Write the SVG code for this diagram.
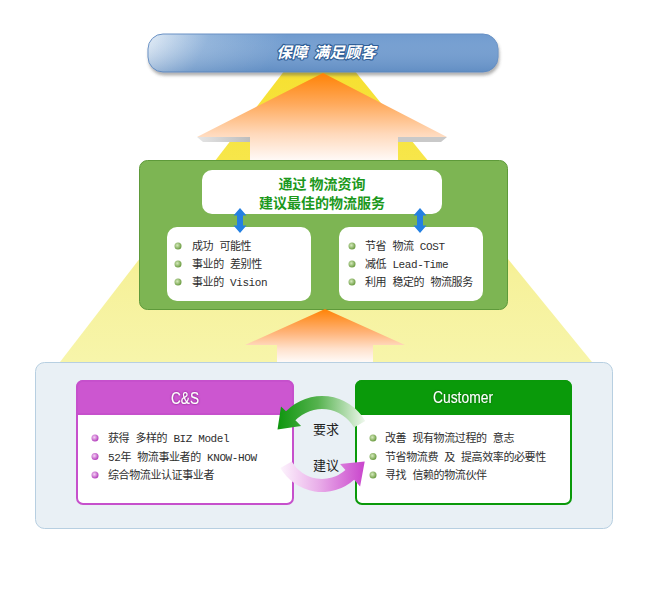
<svg xmlns="http://www.w3.org/2000/svg" width="650" height="600" viewBox="0 0 650 600">
<defs>
<linearGradient id="gYellow" x1="0" y1="70" x2="0" y2="362" gradientUnits="userSpaceOnUse">
<stop offset="0" stop-color="#f6e030"/>
<stop offset="0.35" stop-color="#f7e74e"/>
<stop offset="0.7" stop-color="#f6f19a"/>
<stop offset="1" stop-color="#f7f5aa"/>
</linearGradient>
<linearGradient id="gOrange1" x1="0" y1="73" x2="0" y2="160" gradientUnits="userSpaceOnUse">
<stop offset="0" stop-color="#ff8205"/>
<stop offset="0.35" stop-color="#ffa95a"/>
<stop offset="0.7" stop-color="#ffd9bb"/>
<stop offset="1" stop-color="#fff9f6"/>
</linearGradient>
<linearGradient id="gOrange2" x1="0" y1="309" x2="0" y2="362" gradientUnits="userSpaceOnUse">
<stop offset="0" stop-color="#ff8205"/>
<stop offset="0.45" stop-color="#ffb47a"/>
<stop offset="0.75" stop-color="#ffe1cc"/>
<stop offset="1" stop-color="#fffaf7"/>
</linearGradient>
<linearGradient id="gShadowBar" x1="0" y1="0" x2="1" y2="0">
<stop offset="0" stop-color="#e6e6e6"/>
<stop offset="1" stop-color="#bdbdbd"/>
</linearGradient>
<linearGradient id="gBanner" x1="148" y1="34" x2="260" y2="90" gradientUnits="userSpaceOnUse">
<stop offset="0" stop-color="#e2ecf6"/>
<stop offset="0.45" stop-color="#8fb2da"/>
<stop offset="1" stop-color="#6f9bcf"/>
</linearGradient>
<linearGradient id="gBannerV" x1="0" y1="34" x2="0" y2="72" gradientUnits="userSpaceOnUse">
<stop offset="0" stop-color="#ffffff" stop-opacity="0"/>
<stop offset="1" stop-color="#3e6ea8" stop-opacity="0.3"/>
</linearGradient>
<linearGradient id="gGreenArc" x1="278" y1="0" x2="366" y2="0" gradientUnits="userSpaceOnUse">
<stop offset="0" stop-color="#0f960f"/>
<stop offset="0.45" stop-color="#55b24e"/>
<stop offset="1" stop-color="#f2f9f0"/>
</linearGradient>
<linearGradient id="gPinkArc" x1="280" y1="0" x2="365" y2="0" gradientUnits="userSpaceOnUse">
<stop offset="0" stop-color="#fdf4fd"/>
<stop offset="0.45" stop-color="#e9aee9"/>
<stop offset="1" stop-color="#c944cc"/>
</linearGradient>
<radialGradient id="gBulletG" cx="0.4" cy="0.4" r="0.6">
<stop offset="0" stop-color="#d6ebbd"/>
<stop offset="1" stop-color="#6c9c42"/>
</radialGradient>
<radialGradient id="gBulletP" cx="0.4" cy="0.4" r="0.6">
<stop offset="0" stop-color="#f6d4f6"/>
<stop offset="1" stop-color="#b440bc"/>
</radialGradient>
<filter id="fShadow" x="-10%" y="-30%" width="120%" height="170%">
<feDropShadow dx="1" dy="3" stdDeviation="1.5" flood-color="#555555" flood-opacity="0.45"/>
</filter>
<filter id="fGlowP" x="-20%" y="-40%" width="140%" height="180%">
<feDropShadow dx="0" dy="0" stdDeviation="1.2" flood-color="#6a1070" flood-opacity="0.9"/>
</filter>
<filter id="fGlowG" x="-20%" y="-40%" width="140%" height="180%">
<feDropShadow dx="0" dy="0" stdDeviation="1" flood-color="#045004" flood-opacity="0.7"/>
</filter>
<style>
.body{font-family:"Liberation Mono","Noto Sans CJK SC",monospace;font-size:11px;fill:#2e2e2e;letter-spacing:-0.4px}
.title{font-family:"Noto Sans CJK SC",sans-serif;font-size:14px;font-weight:bold;fill:#1c981c;text-anchor:middle}
.head{font-family:"Liberation Sans",Arial,sans-serif;font-size:16px;fill:#ffffff;text-anchor:middle}
.cyc{font-family:"Noto Sans CJK SC",sans-serif;font-size:13px;fill:#222222;text-anchor:middle}
.wbox{fill:#ffffff}
.bg{fill:url(#gBulletG)}
.bp{fill:url(#gBulletP)}
.blue{fill:#2480e2}
</style>
</defs>

<!-- light beam -->
<polygon points="285,70 354,70 592,362 60,362" fill="url(#gYellow)"/>

<!-- bottom panel -->
<rect x="35.5" y="362.5" width="577" height="166" rx="9" fill="#e9f0f5" stroke="#b7cfe1"/>

<!-- banner -->
<g id="banner">
<rect x="148" y="34" width="350" height="38" rx="15" fill="url(#gBanner)" stroke="#6890c4" filter="url(#fShadow)"/>
<rect x="148" y="34" width="350" height="38" rx="15" fill="url(#gBannerV)"/>
<text x="326" y="58" text-anchor="middle" font-family="'Noto Sans CJK SC',sans-serif" font-size="15.5" font-weight="bold" font-style="italic" fill="#ffffff" stroke="#2e5d96" stroke-width="2.2" paint-order="stroke" stroke-linejoin="round">保障 <tspan dx="3">满足顾客</tspan></text>
</g>

<!-- green box -->
<g id="consulting">
<rect x="139.5" y="160.5" width="368" height="149" rx="8" fill="#7db553" stroke="#5e9a3a"/>
</g>
<g id="title">
<rect x="202" y="170" width="240" height="44" rx="10" class="wbox"/>
<text x="322" y="189" class="title">通过 物流资询</text>
<text x="322" y="208" class="title">建议最佳的物流服务</text>
</g>
<g id="left-list">
<rect x="167" y="227" width="144" height="74" rx="10" class="wbox"/>
<circle cx="178" cy="246" r="3.5" class="bg"/>
<circle cx="178" cy="264" r="3.5" class="bg"/>
<circle cx="178" cy="282" r="3.5" class="bg"/>
<text x="192" y="250" class="body">成功 可能性</text>
<text x="192" y="268" class="body">事业的 差别性</text>
<text x="192" y="286" class="body">事业的 Vision</text>
</g>
<g id="right-list">
<rect x="339" y="227" width="144" height="74" rx="10" class="wbox"/>
<circle cx="352" cy="246" r="3.5" class="bg"/>
<circle cx="352" cy="264" r="3.5" class="bg"/>
<circle cx="352" cy="282" r="3.5" class="bg"/>
<text x="365" y="250" class="body">节省 物流 COST</text>
<text x="365" y="268" class="body">减低 Lead-Time</text>
<text x="365" y="286" class="body">利用 稳定的 物流服务</text>
</g>

<!-- C&S -->
<g id="cs">
<rect x="77" y="381" width="216" height="123" rx="6" fill="#ffffff" stroke="#c650cc" stroke-width="2"/>
<path d="M77,414 V387 a6,6 0 0 1 6,-6 H287 a6,6 0 0 1 6,6 V414 Z" fill="#cc56d0" stroke="#c650cc" stroke-width="2"/>
<text x="185" y="404" class="head" textLength="28" lengthAdjust="spacingAndGlyphs" filter="url(#fGlowP)">C&amp;S</text>
<circle cx="95" cy="438" r="3.5" class="bp"/>
<circle cx="95" cy="456.5" r="3.5" class="bp"/>
<circle cx="95" cy="475" r="3.5" class="bp"/>
<text x="108" y="442" class="body">获得 多样的 BIZ Model</text>
<text x="108" y="460.5" class="body">52年 物流事业者的 KNOW-HOW</text>
<text x="108" y="479" class="body">综合物流业认证事业者</text>
</g>

<!-- Customer -->
<g id="customer">
<rect x="356" y="381" width="215" height="123" rx="6" fill="#ffffff" stroke="#0a990a" stroke-width="2"/>
<path d="M356,414 V387 a6,6 0 0 1 6,-6 H565 a6,6 0 0 1 6,6 V414 Z" fill="#0a9a0a" stroke="#0a990a" stroke-width="2"/>
<text x="463" y="403" class="head" textLength="60" lengthAdjust="spacingAndGlyphs" filter="url(#fGlowG)">Customer</text>
<circle cx="373" cy="438" r="3.5" class="bg"/>
<circle cx="373" cy="456.5" r="3.5" class="bg"/>
<circle cx="373" cy="475" r="3.5" class="bg"/>
<text x="385" y="442" class="body">改善 现有物流过程的 意志</text>
<text x="385" y="460.5" class="body">节省物流费 及 提高效率的必要性</text>
<text x="385" y="479" class="body">寻找 信赖的物流伙伴</text>
</g>

<!-- connectors -->
<g id="connectors">
<polygon points="323,73 447,137 398,137 398,160 250,160 250,137 197,137" fill="url(#gOrange1)"/>
<polygon points="197,137 250,137 250,142 203,142" fill="url(#gShadowBar)"/>
<polygon points="398,137 447,137 441,142 398,142" fill="#c9c9c9"/>
<polygon points="325,309 405,345 373,345 373,362 277,362 277,345 245,345" fill="url(#gOrange2)"/>
<path class="blue" d="M240,208 L246.5,215.5 L243,215.5 L243,225.5 L246.5,225.5 L240,233 L233.5,225.5 L237,225.5 L237,215.5 L233.5,215.5 Z"/>
<path class="blue" d="M420,208 L426.5,215.5 L423,215.5 L423,225.5 L426.5,225.5 L420,233 L413.5,225.5 L417,225.5 L417,215.5 L413.5,215.5 Z"/>
<path d="M365.3,421 A50,50 0 0 0 286,411.3 L281,406.4 L277.5,429.5 L301.1,425.9 L295.4,420.3 A37,37 0 0 1 354,427.5 Z" fill="url(#gGreenArc)"/>
<path d="M280.4,468 A48,48 0 0 0 354.1,479.7 L360.1,486.4 L364.7,461.4 L340.1,464.1 L345.4,470 A35,35 0 0 1 291.7,461.5 Z" fill="url(#gPinkArc)"/>
<text x="326" y="434" class="cyc">要求</text>
<text x="326" y="470" class="cyc">建议</text>
</g>
</svg>
